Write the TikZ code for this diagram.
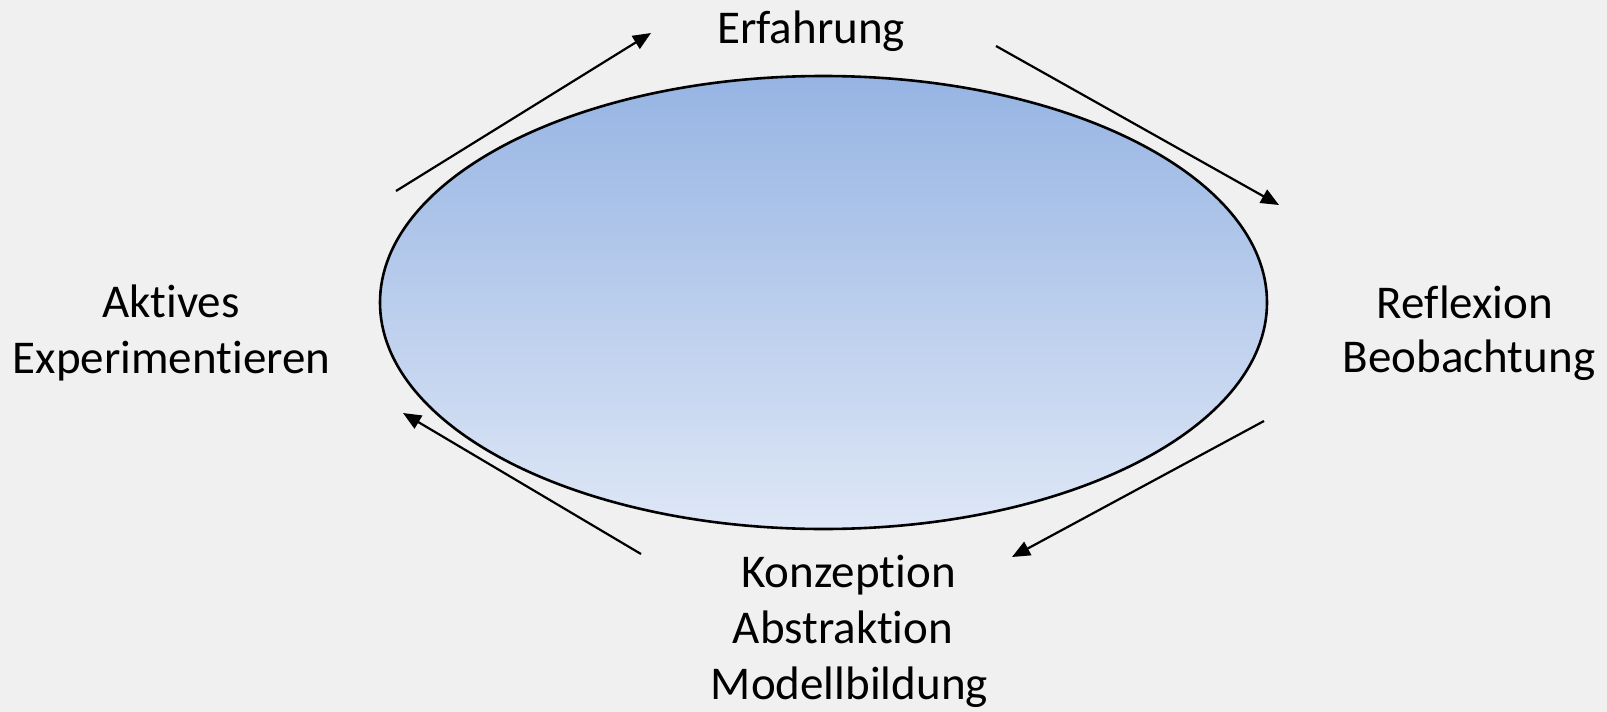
\documentclass[tikz,border=0pt]{standalone}
\usepackage{fontspec}
\setmainfont{Carlito}[RawFeature=-liga]
\usetikzlibrary{arrows.meta,shapes.geometric}
\definecolor{bgc}{RGB}{240,240,240}
\definecolor{topc}{RGB}{150,180,227}
\definecolor{botc}{RGB}{222,231,246}
\tikzset{
  lbl/.style={anchor=base, inner sep=0pt, font=\fontsize{47}{56}\selectfont},
  cyc/.style={-{Triangle[length=18pt,width=15pt]}, line width=2.2pt, black}
}
\begin{document}
\begin{tikzpicture}[x=1pt,y=-1pt]
\fill[bgc] (0,0) rectangle (1607,712);
\useasboundingbox (0,0) rectangle (1607,712);
\node[ellipse, draw, line width=2.6pt, minimum width=887pt, minimum height=453pt, inner sep=0pt,
      top color=topc, bottom color=botc] (oval) at (823.5,302.5) {};
% labels
\node[lbl] (erf) at (811,43) {Erfahrung};
\node[lbl] (akt1) at (171,317) {Aktives};
\node[lbl] (akt2) at (171.5,373) {Experimentieren};
\node[lbl] (ref1) at (1465,318) {Reflexion};
\node[lbl] (ref2) at (1469,372) {Beobachtung};
\node[lbl] (kon1) at (848.5,587) {Konzeption};
\node[lbl] (kon2) at (843,643) {Abstraktion};
\node[lbl] (kon3) at (849.5,699) {Modellbildung};
% arrow ends
\coordinate (a1s) at (396,191); \coordinate (a1e) at (651,33);
\coordinate (a2s) at (996,46);  \coordinate (a2e) at (1279,205);
\coordinate (a3s) at (1264,421); \coordinate (a3e) at (1012,557);
\coordinate (a4s) at (641,554); \coordinate (a4e) at (403,413);
\draw[cyc] (a1s) -- (a1e);
\draw[cyc] (a2s) -- (a2e);
\draw[cyc] (a3s) -- (a3e);
\draw[cyc] (a4s) -- (a4e);
\end{tikzpicture}
\end{document}
